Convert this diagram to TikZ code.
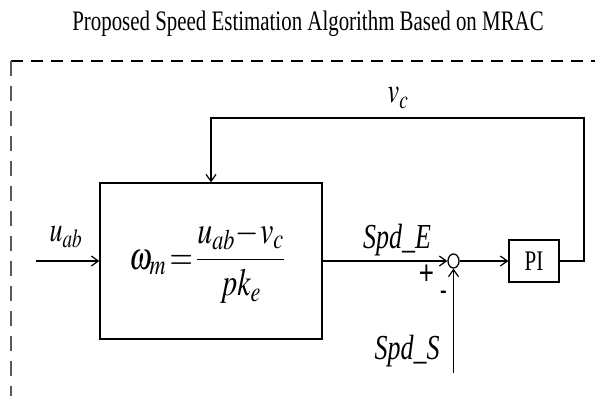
\documentclass[tikz,border=0pt]{standalone}
\usepackage{amsmath}
\usepackage{mathptmx}
\usepackage{graphicx}
\usepackage{fontspec}
\setmainfont{Liberation Serif}
\setsansfont{Liberation Sans}
\usetikzlibrary{arrows.meta,shapes.geometric}
\newcommand{\vstretch}[1]{\scalebox{1}[1.35]{#1}}
\begin{document}
\begin{tikzpicture}[x=1pt,y=-1pt,line width=1.3pt,
  arr/.style={-{Straight Barb[length=7pt,width=10pt,line width=1.2pt]}},
  blk/.style={draw,line width=1.3pt,inner sep=0pt},
  lbl/.style={inner sep=0pt,font=\fontsize{26}{30}\selectfont},
  sgn/.style={inner sep=0pt,font=\sffamily\fontsize{26}{28}\selectfont}]
\useasboundingbox (0,0) rectangle (595,396);
\node[inner sep=0pt,anchor=base] (title) at (308,31) {\vstretch{\fontsize{20.9}{24}\selectfont Proposed Speed Estimation Algorithm Based on MRAC}};
\coordinate (fTL) at (11,61);
\coordinate (fTR) at (595,61);
\coordinate (fBL) at (11,396);
\draw[line width=2pt,dash pattern=on 12pt off 8pt] (fTL) -- (fTR);
\draw[black!65,line width=1.5pt,dash pattern=on 15pt off 10pt] (fTL) -- (fBL);
\node[blk,minimum width=222pt,minimum height=156pt] (est) at (211,261) {};
\node[inner sep=0pt,font=\fontsize{30}{34}\selectfont] (formula) at (207,262) {\scalebox{1}[1.28]{$\omega_m\mkern2mu{=}\mkern2mu\dfrac{u_{ab}\!-\!v_c}{pk_e}$}};
\node[ellipse,draw,minimum width=11pt,minimum height=14pt,inner sep=0pt,line width=1.3pt] (sum) at (453.5,261) {};
\node[blk,minimum width=50pt,minimum height=42pt,font=\fontsize{21}{24}\selectfont] (pi) at (534,261) {\vstretch{PI}};
\coordinate (in) at (36,261);
\coordinate (ss) at (453.5,373);
\coordinate (fbr) at (584,118);
\draw[arr] (in) -- (est.west);
\draw[arr] (est.east) -- (sum.west);
\draw[arr] (sum.east) -- (pi.west);
\draw[arr] (ss) -- (sum.south);
\draw[arr] (pi.east) -| (fbr) -| (est.north);
\node[lbl] (uab) at (66,237) {\vstretch{$u_{ab}$}};
\node[lbl] (vc) at (398,98) {\vstretch{$v_c$}};
\node[lbl] (spde) at (397,240) {\vstretch{\textit{Spd\_E}}};
\node[lbl] (spds) at (407,351) {\vstretch{\textit{Spd\_S}}};
\node[sgn] (plus) at (426.5,275) {\scalebox{1}[1.3]{+}};
\node[inner sep=0pt,font=\sffamily\bfseries\fontsize{20}{22}\selectfont] (minus) at (443.5,294) {-};
\end{tikzpicture}
\end{document}
